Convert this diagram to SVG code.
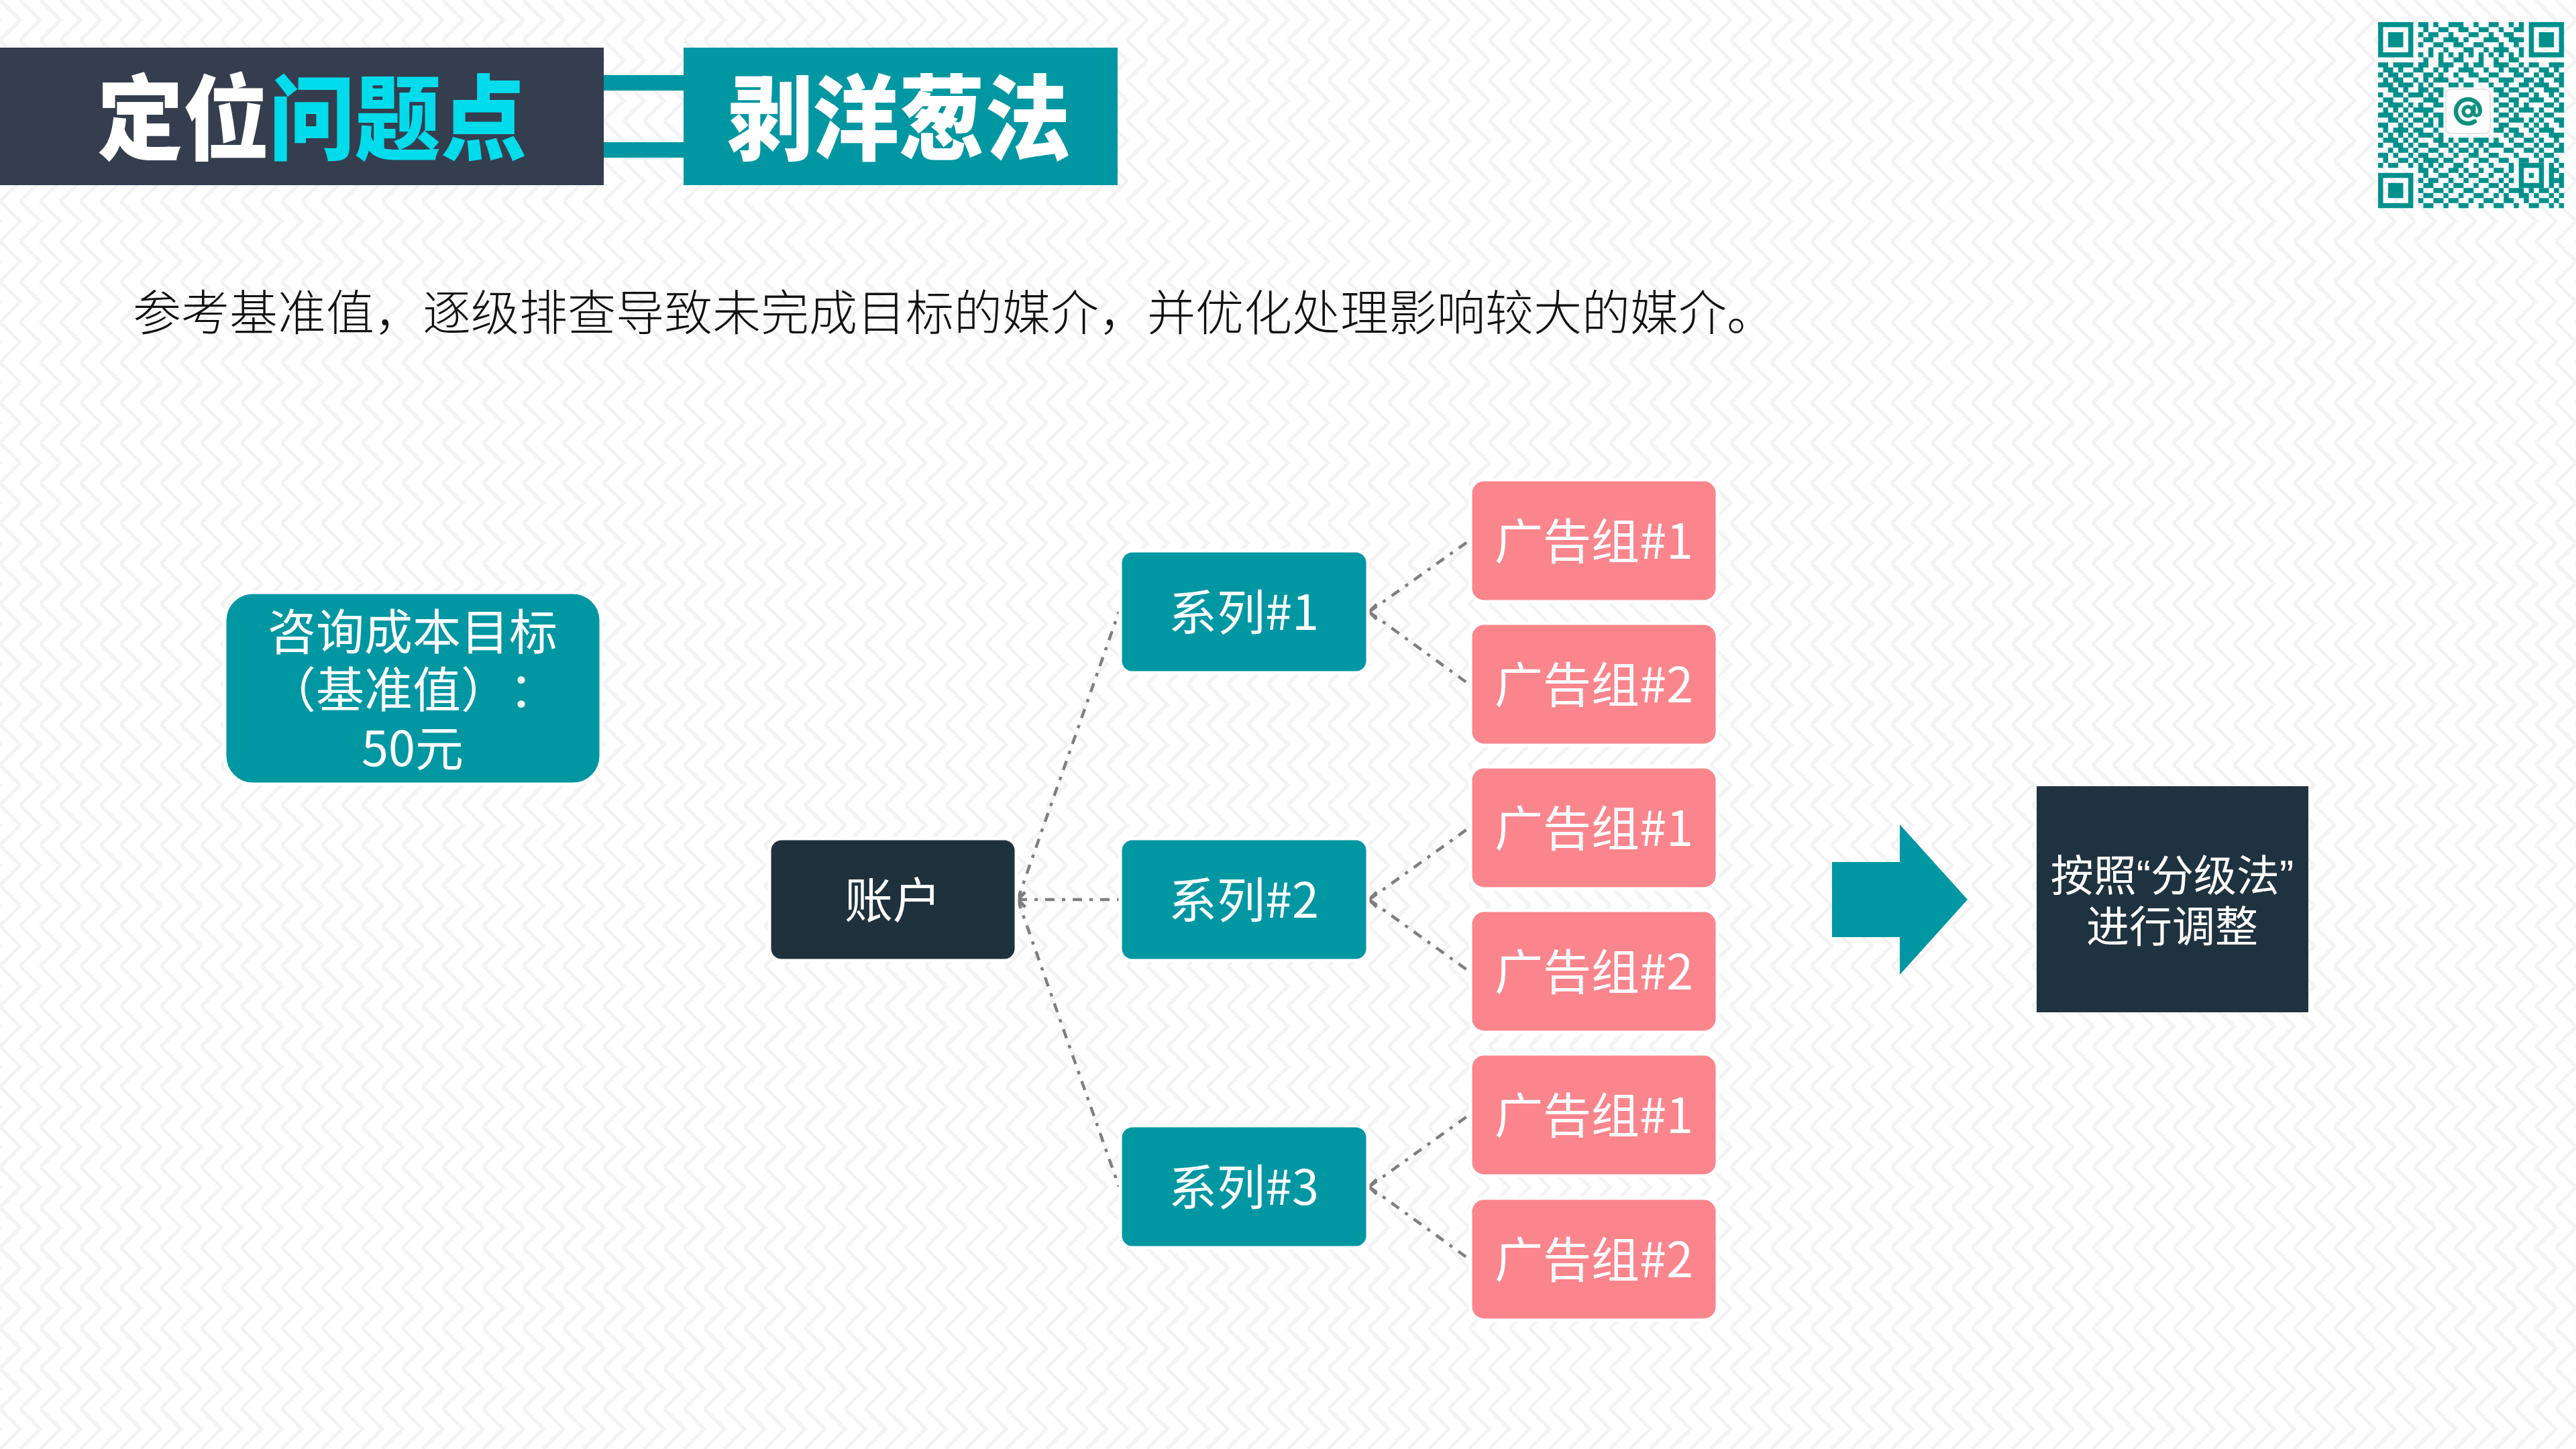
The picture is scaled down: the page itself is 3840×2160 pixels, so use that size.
<svg xmlns="http://www.w3.org/2000/svg" width="3840" height="2160" viewBox="0 0 3840 2160">
<defs>
<style>
.cjk{font-family:"Noto Sans CJK SC","Noto Sans",sans-serif;text-spacing-trim:space-all}
.title{font-family:"Noto Sans CJK SC","Noto Sans",sans-serif;font-weight:900;font-size:138px}
.lbl{font-family:"Noto Sans CJK SC","Noto Sans",sans-serif;font-size:72px;fill:#ffffff;text-anchor:middle;text-spacing-trim:space-all}
.q{font-family:"Liberation Sans","Noto Sans",sans-serif}
.teal{fill:#0097A3;stroke:#ffffff;stroke-width:5}
.pink{fill:#FA858D;stroke:#ffffff;stroke-width:5}
.dark{fill:#1F313D;stroke:#ffffff;stroke-width:5}
.conn{fill:none;stroke:#7F7F7F;stroke-width:4.5;stroke-dasharray:14 11 5 11;marker-start:url(#chev)}
</style>
<pattern id="bg" width="30" height="60" patternUnits="userSpaceOnUse">
<rect width="30" height="60" fill="#ffffff"/>
<path d="M0 0L30 30L0 60M-30 0L0 30L-30 60M30 0L60 30L30 60" fill="none" stroke="#F3F3F3" stroke-width="5"/>
</pattern>
<marker id="chev" markerUnits="userSpaceOnUse" orient="0" markerWidth="30" markerHeight="30" refX="0" refY="0" viewBox="-5 -15 30 30" overflow="visible">
<path d="M11 -11L0 0L11 11" fill="none" stroke="#7F7F7F" stroke-width="4.5"/>
</marker>
</defs>
<rect width="3840" height="2160" fill="url(#bg)"/>

<g id="header">
<rect x="0" y="71" width="900" height="205" fill="#353E4F"/>
<rect x="900" y="112" width="119" height="23" fill="#0097A3"/>
<rect x="900" y="212" width="119" height="23" fill="#0097A3"/>
<rect x="1019" y="71" width="647" height="205" fill="#0097A3"/>
<text class="title" x="145" y="227" textLength="640" lengthAdjust="spacingAndGlyphs"><tspan fill="#ffffff">定位</tspan><tspan fill="#00DCEB">问题点</tspan></text>
<text class="title" x="1084" y="227" textLength="512" lengthAdjust="spacingAndGlyphs" fill="#ffffff">剥洋葱法</text>
</g>

<g id="qrcode">
<g transform="translate(3545,33) scale(7.49)">
<path fill="#00908C" fill-rule="evenodd" d="M0 0h7v7h-7zM1 1v5h5v-5zM2 2h3v3h-3zM30 0h7v7h-7zM31 1v5h5v-5zM32 2h3v3h-3zM0 30h7v7h-7zM1 31v5h5v-5zM2 32h3v3h-3zM28 28h5v5h-5zM29 29v3h3v-3zM30 30h1v1h-1z"/>
<path fill="none" stroke="#00908C" stroke-width="1" d="M8 .5h2M11 .5h1M14 .5h3M19 .5h1M22 .5h2M26 .5h1M28 .5h1M9 1.5h1M12 1.5h2M16 1.5h2M20 1.5h2M24 1.5h1M27 1.5h2M8 2.5h1M10 2.5h2M14 2.5h1M18 2.5h2M22 2.5h1M25 2.5h2M9 3.5h2M13 3.5h3M17 3.5h1M21 3.5h3M26 3.5h3M8 4.5h1M11 4.5h2M15 4.5h2M19 4.5h2M24 4.5h1M27 4.5h1M10 5.5h1M13 5.5h1M17 5.5h2M21 5.5h1M23 5.5h3M28 5.5h1M8 6.5h1M10 6.5h1M12 6.5h1M14 6.5h1M16 6.5h1M18 6.5h1M20 6.5h1M22 6.5h1M24 6.5h1M26 6.5h1M28 6.5h1M9 7.5h1M12 7.5h1M15 7.5h2M20 7.5h1M23 7.5h1M26 7.5h2M0 8.5h2M3 8.5h4M8 8.5h2M12 8.5h3M17 8.5h1M19 8.5h2M23 8.5h3M28 8.5h1M30 8.5h2M34 8.5h3M1 9.5h2M4 9.5h1M7 9.5h2M11 9.5h1M13 9.5h1M16 9.5h3M21 9.5h1M24 9.5h1M26 9.5h2M29 9.5h1M32 9.5h2M35 9.5h1M0 10.5h1M2 10.5h2M5 10.5h2M9 10.5h2M12 10.5h1M15 10.5h1M18 10.5h2M22 10.5h2M27 10.5h2M31 10.5h1M33 10.5h2M36 10.5h1M1 11.5h1M3 11.5h2M7 11.5h1M9 11.5h1M11 11.5h3M16 11.5h1M20 11.5h2M24 11.5h3M29 11.5h2M32 11.5h1M35 11.5h2M0 12.5h3M4 12.5h3M8 12.5h1M10 12.5h1M14 12.5h2M17 12.5h2M22 12.5h1M25 12.5h1M28 12.5h2M31 12.5h3M36 12.5h1M2 13.5h2M5 13.5h1M8 13.5h2M11 13.5h2M23 13.5h2M26 13.5h2M30 13.5h1M33 13.5h3M0 14.5h1M3 14.5h2M6 14.5h3M10 14.5h1M12 14.5h1M24 14.5h2M28 14.5h2M31 14.5h1M34 14.5h1M36 14.5h1M1 15.5h2M5 15.5h1M9 15.5h3M23 15.5h1M26 15.5h2M30 15.5h3M35 15.5h1M0 16.5h1M2 16.5h3M6 16.5h1M8 16.5h1M11 16.5h2M24 16.5h2M27 16.5h1M29 16.5h1M33 16.5h2M36 16.5h1M1 17.5h1M3 17.5h1M5 17.5h1M7 17.5h4M23 17.5h1M26 17.5h1M28 17.5h3M32 17.5h1M35 17.5h2M0 18.5h3M4 18.5h1M6 18.5h1M9 18.5h1M11 18.5h2M24 18.5h2M27 18.5h1M31 18.5h1M33 18.5h2M2 19.5h2M5 19.5h1M7 19.5h2M10 19.5h1M12 19.5h1M23 19.5h1M26 19.5h3M30 19.5h1M32 19.5h1M35 19.5h2M0 20.5h2M4 20.5h1M6 20.5h1M9 20.5h2M12 20.5h1M24 20.5h2M29 20.5h1M31 20.5h1M33 20.5h1M36 20.5h1M1 21.5h1M3 21.5h3M7 21.5h2M11 21.5h1M23 21.5h2M26 21.5h2M30 21.5h1M32 21.5h3M0 22.5h1M2 22.5h1M4 22.5h1M6 22.5h1M8 22.5h3M12 22.5h1M25 22.5h1M27 22.5h2M31 22.5h1M34 22.5h3M1 23.5h3M5 23.5h1M7 23.5h1M11 23.5h2M14 23.5h1M16 23.5h2M19 23.5h3M23 23.5h1M26 23.5h1M29 23.5h2M32 23.5h1M35 23.5h1M0 24.5h1M3 24.5h2M6 24.5h1M8 24.5h2M12 24.5h2M15 24.5h1M18 24.5h1M20 24.5h1M22 24.5h3M27 24.5h2M31 24.5h1M33 24.5h2M36 24.5h1M2 25.5h1M4 25.5h2M7 25.5h1M10 25.5h2M14 25.5h1M16 25.5h2M19 25.5h1M21 25.5h1M25 25.5h2M29 25.5h2M32 25.5h1M35 25.5h2M0 26.5h2M3 26.5h1M6 26.5h1M8 26.5h2M12 26.5h1M15 26.5h1M18 26.5h2M22 26.5h2M27 26.5h1M31 26.5h1M33 26.5h2M1 27.5h1M4 27.5h2M7 27.5h1M9 27.5h3M13 27.5h2M17 27.5h1M20 27.5h2M24 27.5h2M28 27.5h2M32 27.5h1M35 27.5h1M0 28.5h1M2 28.5h2M6 28.5h1M8 28.5h1M10 28.5h1M12 28.5h1M15 28.5h2M19 28.5h1M22 28.5h1M26 28.5h1M34 28.5h1M36 28.5h1M8 29.5h2M11 29.5h1M14 29.5h2M17 29.5h1M20 29.5h1M23 29.5h2M26 29.5h1M34 29.5h2M9 30.5h1M12 30.5h2M16 30.5h1M18 30.5h2M22 30.5h1M25 30.5h1M34 30.5h1M36 30.5h1M8 31.5h1M10 31.5h2M14 31.5h1M17 31.5h1M20 31.5h2M24 31.5h1M26 31.5h1M34 31.5h3M9 32.5h2M13 32.5h1M15 32.5h2M19 32.5h1M22 32.5h2M25 32.5h1M34 32.5h1M36 32.5h1M8 33.5h1M11 33.5h2M14 33.5h1M17 33.5h2M21 33.5h1M24 33.5h1M26 33.5h3M30 33.5h1M32 33.5h2M35 33.5h1M9 34.5h2M13 34.5h1M16 34.5h1M19 34.5h2M23 34.5h1M25 34.5h1M28 34.5h2M31 34.5h1M34 34.5h1M36 34.5h1M8 35.5h1M11 35.5h2M14 35.5h2M18 35.5h1M21 35.5h2M25 35.5h2M29 35.5h1M32 35.5h2M35 35.5h1M9 36.5h2M13 36.5h1M16 36.5h2M20 36.5h1M23 36.5h2M27 36.5h1M30 36.5h2M34 36.5h1M36 36.5h1"/>
</g>
<rect x="3646" y="133" width="66" height="66" rx="8" fill="#ffffff" stroke="#DDDDDD" stroke-width="1.5"/>
<g fill="none" stroke="#0F9080" stroke-linecap="round">
<path d="M3697 166A18 18 0 1 0 3689 181" stroke-width="6.5"/>
<circle cx="3679" cy="166" r="7" stroke-width="5.5"/>
<path d="M3688 158V168Q3688 173 3693 172Q3697 171 3697 166" stroke-width="5"/>
</g>
</g>

<text id="subtitle" class="cjk" x="198" y="492" font-size="72" font-weight="300" fill="#111111">参考基准值，逐级排查导致未完成目标的媒介，并优化处理影响较大的媒介。</text>

<g id="connectors">
<path class="conn" d="M1517 1341L1668 912"/>
<path class="conn" d="M1517 1341L1668 1341"/>
<path class="conn" d="M1517 1341L1668 1769"/>
<path class="conn" d="M2041 912L2190 806"/>
<path class="conn" d="M2041 912L2190 1020"/>
<path class="conn" d="M2041 1341L2190 1234"/>
<path class="conn" d="M2041 1341L2190 1448"/>
<path class="conn" d="M2041 1769L2190 1662"/>
<path class="conn" d="M2041 1769L2190 1877"/>
</g>

<g id="node-target">
<rect class="teal" x="335" y="883" width="561" height="286" rx="42"/>
<text class="lbl"><tspan x="615" y="968">咨询成本目标</tspan><tspan x="615" y="1054">（基准值）：</tspan><tspan x="615" y="1142">50元</tspan></text>
</g>

<g id="node-account">
<rect class="dark" x="1147" y="1250" width="368" height="182" rx="18"/>
<text class="lbl" x="1331" y="1368">账户</text>
</g>

<g id="node-series1">
<rect class="teal" x="1670" y="821" width="369" height="182" rx="18"/>
<text class="lbl" x="1854" y="939">系列#1</text>
</g>
<g id="node-series2">
<rect class="teal" x="1670" y="1250" width="369" height="182" rx="18"/>
<text class="lbl" x="1854" y="1368">系列#2</text>
</g>
<g id="node-series3">
<rect class="teal" x="1670" y="1678" width="369" height="182" rx="18"/>
<text class="lbl" x="1854" y="1796">系列#3</text>
</g>

<g id="node-ad1-1">
<rect class="pink" x="2192" y="715" width="368" height="182" rx="20"/>
<text class="lbl" x="2376" y="833">广告组#1</text>
</g>
<g id="node-ad1-2">
<rect class="pink" x="2192" y="929" width="368" height="182" rx="20"/>
<text class="lbl" x="2376" y="1047">广告组#2</text>
</g>
<g id="node-ad2-1">
<rect class="pink" x="2192" y="1143" width="368" height="182" rx="20"/>
<text class="lbl" x="2376" y="1261">广告组#1</text>
</g>
<g id="node-ad2-2">
<rect class="pink" x="2192" y="1357" width="368" height="182" rx="20"/>
<text class="lbl" x="2376" y="1475">广告组#2</text>
</g>
<g id="node-ad3-1">
<rect class="pink" x="2192" y="1571" width="368" height="182" rx="20"/>
<text class="lbl" x="2376" y="1689">广告组#1</text>
</g>
<g id="node-ad3-2">
<rect class="pink" x="2192" y="1786" width="368" height="182" rx="20"/>
<text class="lbl" x="2376" y="1904">广告组#2</text>
</g>

<g id="block-arrow">
<polygon points="2731,1285 2832,1285 2832,1229 2933,1341 2832,1453 2832,1397 2731,1397" fill="#0097A3"/>
</g>

<g id="node-adjust">
<rect x="3036" y="1172" width="405" height="337" fill="#1F323F"/>
<text class="lbl" style="font-size:64px"><tspan x="3238" y="1328">按照<tspan class="q">“</tspan>分级法<tspan class="q">”</tspan></tspan><tspan x="3238" y="1404">进行调整</tspan></text>
</g>
</svg>
